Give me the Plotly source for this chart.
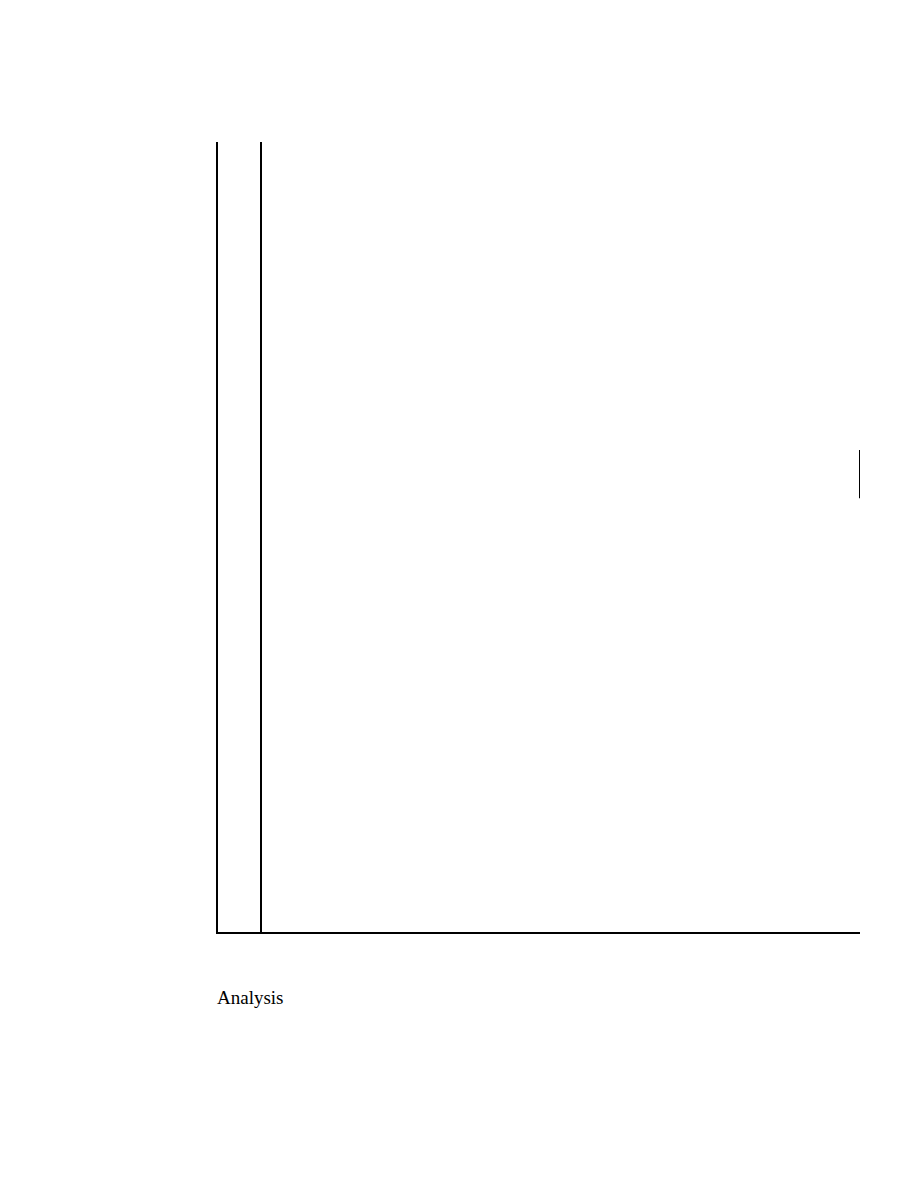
import plotly.graph_objects as go

# values
x_range = [-0.5, 7.0]
y_range = [0, 100]
seg_x = [7.0, 7.0]
seg_y = [54.9, 61.0]
note_text = "Analysis"

fig = go.Figure()

fig.add_trace(go.Scatter(
    x=seg_x, y=seg_y, mode="lines",
    line=dict(color="black", width=2),
    cliponaxis=False, showlegend=False, hoverinfo="skip",
))

fig.update_xaxes(
    range=x_range, showgrid=False, showticklabels=False, ticks="",
    showline=True, linecolor="black", linewidth=1.5,
    zeroline=True, zerolinecolor="black", zerolinewidth=1.5,
)
fig.update_yaxes(
    range=y_range, showgrid=False, showticklabels=False, ticks="",
    showline=True, linecolor="black", linewidth=1.5, zeroline=False,
)

fig.add_annotation(
    text=note_text, xref="paper", yref="paper", x=0, y=-0.067,
    xanchor="left", yanchor="top", showarrow=False, xshift=-3,
    font=dict(family="Liberation Serif", size=19, color="black"),
)

# page body adds an 8px offset, so margins are shifted to compensate
fig.update_layout(
    width=918, height=1188,
    margin=dict(l=210, r=66, t=134, b=264),
    plot_bgcolor="white", paper_bgcolor="white",
)

fig.write_html("out.html")
